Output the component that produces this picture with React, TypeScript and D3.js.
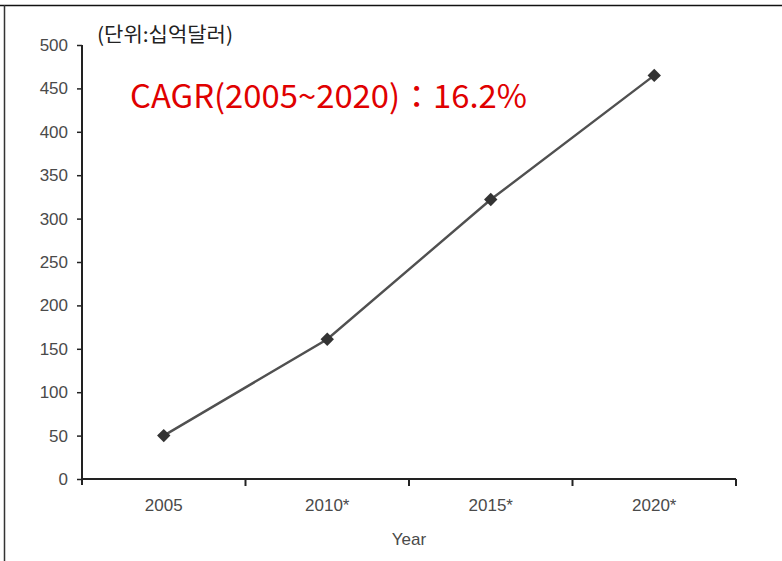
import React, { useRef, useEffect } from 'react';
import * as d3 from 'd3';

const years = ['2005', '2010*', '2015*', '2020*'];
const values = [50, 161, 322, 465];
const yTicks = [0, 50, 100, 150, 200, 250, 300, 350, 400, 450, 500];
const unitLabel = '(단위:십억달러)';
const cagrLabel = 'CAGR(2005~2020)：16.2%';
const xTitle = 'Year';

export default function App() {
  const svgRef = useRef<SVGSVGElement>(null);
  const width = 782;
  const height = 561;

  useEffect(() => {
    document.body.style.margin = '0';
    const svg = d3.select(svgRef.current);
    svg.selectAll('*').remove();

    const x = d3.scaleBand<string>().domain(years).range([82, 736]).padding(0);
    const y = d3.scaleLinear().domain([0, 500]).range([479, 45]);

    // frame: top and left edges only
    svg.append('line').attr('x1', 0).attr('x2', width).attr('y1', 5.5).attr('y2', 5.5)
      .attr('stroke', '#111').attr('stroke-width', 1.5);
    svg.append('line').attr('x1', 4.5).attr('x2', 4.5).attr('y1', 5).attr('y2', height)
      .attr('stroke', '#333').attr('stroke-width', 1.5);

    // y axis
    const yAxis = svg.append('g')
      .attr('transform', 'translate(82,0)')
      .call(d3.axisLeft(y).tickValues(yTicks).tickSize(5).tickSizeOuter(0).tickPadding(9));
    yAxis.select('.domain').remove();
    yAxis.selectAll('line').attr('stroke', '#222').attr('stroke-width', 1.5);
    yAxis.selectAll('text')
      .attr('fill', '#4a4a4a')
      .style('font-family', '"Liberation Sans", Arial, sans-serif')
      .style('font-size', '17px');
    svg.append('line').attr('x1', 82).attr('x2', 82).attr('y1', y(500)).attr('y2', y(0) + 6)
      .attr('stroke', '#222').attr('stroke-width', 2);

    // x axis
    const xAxis = svg.append('g')
      .attr('transform', `translate(0,${y(0)})`)
      .call(d3.axisBottom(x).tickSize(0).tickPadding(20));
    xAxis.select('.domain').remove();
    xAxis.selectAll('text')
      .attr('fill', '#4a4a4a')
      .style('font-family', '"Liberation Sans", Arial, sans-serif')
      .style('font-size', '17px');
    svg.append('line').attr('x1', 82).attr('x2', 736).attr('y1', y(0)).attr('y2', y(0))
      .attr('stroke', '#222').attr('stroke-width', 2);
    const bounds = years.map(d => x(d) as number).concat([x.range()[1]]);
    svg.append('g').selectAll('line').data(bounds.slice(1)).enter().append('line')
      .attr('x1', d => d).attr('x2', d => d)
      .attr('y1', y(0)).attr('y2', y(0) + 7)
      .attr('stroke', '#222').attr('stroke-width', 2);

    svg.append('text')
      .attr('x', (82 + 736) / 2).attr('y', 545)
      .attr('text-anchor', 'middle')
      .attr('fill', '#4a4a4a')
      .style('font-family', '"Liberation Sans", Arial, sans-serif')
      .style('font-size', '17px')
      .text(xTitle);

    // line + markers
    const pts = years.map((d, i) => [(x(d) as number) + x.bandwidth() / 2, y(values[i])] as [number, number]);
    svg.append('path')
      .attr('d', d3.line()(pts))
      .attr('fill', 'none')
      .attr('stroke', '#505050')
      .attr('stroke-width', 2.4);
    svg.append('g').selectAll('path').data(pts).enter().append('path')
      .attr('d', d3.symbol(d3.symbolSquare, 90)())
      .attr('transform', d => `translate(${d[0]},${d[1]}) rotate(45)`)
      .attr('fill', '#333');

    // annotations
    svg.append('text')
      .attr('x', 97).attr('y', 42)
      .attr('fill', '#222')
      .style('font-family', '"Noto Sans CJK KR", sans-serif')
      .style('font-size', '20px')
      .attr('textLength', 136)
      .attr('lengthAdjust', 'spacingAndGlyphs')
      .text(unitLabel);
    svg.append('text')
      .attr('x', 130).attr('y', 108)
      .attr('fill', '#e00000')
      .style('font-family', '"Noto Sans CJK KR", "Noto Sans", sans-serif')
      .style('font-size', '32px')
      .attr('textLength', 397)
      .attr('lengthAdjust', 'spacingAndGlyphs')
      .text(cagrLabel);
  }, []);

  return (
    <svg ref={svgRef} width={width} height={height}
      style={{ display: 'block', position: 'absolute', left: 0, top: 0, background: '#fff' }} />
  );
}
